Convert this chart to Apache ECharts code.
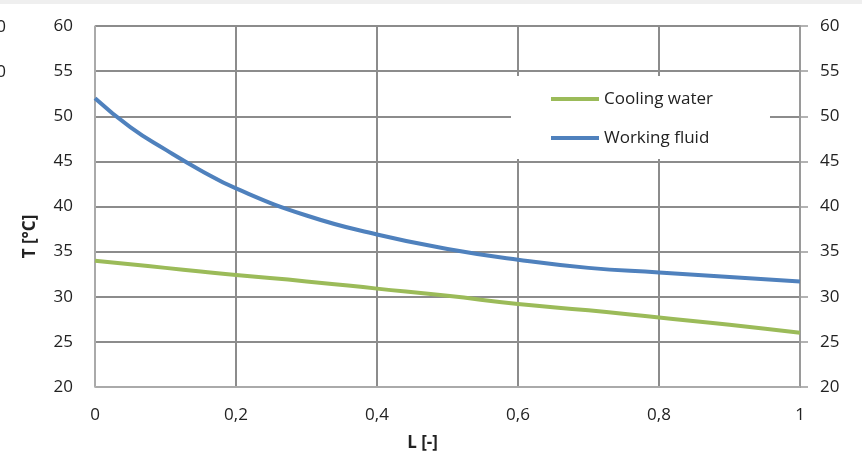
<!DOCTYPE html>
<html><head><meta charset="utf-8">
<script src="https://cdn.jsdelivr.net/npm/echarts@6/dist/echarts.min.js"></script>
<style>html,body{margin:0;padding:0;background:#fff}#c{width:862px;height:460px}</style>
</head><body><div id="c"></div>
<script>
const L_values = [0, 0.05, 0.1, 0.15, 0.2, 0.3, 0.4, 0.5, 0.6, 0.7, 0.8, 0.9, 1.0];
const coolingWater = [34.0, 33.6, 33.2, 32.8, 32.4, 31.7, 30.9, 30.1, 29.2, 28.5, 27.7, 26.9, 26.0];
const workingFluid = [52.0, 48.8, 46.3, 44.0, 42.0, 39.0, 36.9, 35.3, 34.1, 33.2, 32.7, 32.2, 31.7];
const xTicks = ['0', '0,2', '0,4', '0,6', '0,8', '1'];
const yTicks = ['20', '25', '30', '35', '40', '45', '50', '55', '60'];
const seriesNames = ['Cooling water', 'Working fluid'];

const font = '"Open Sans", Lato, sans-serif';
const chart = echarts.init(document.getElementById('c'), null, {renderer: 'canvas'});
const pairs = arr => L_values.map((x, i) => [x, arr[i]]);
const yAxisBase = {
  type: 'value', min: 20, max: 60, interval: 5,
  axisLabel: {fontFamily: font, fontSize: 17, color: '#222',
    formatter: v => yTicks[Math.round((v - 20) / 5)]}
};
chart.setOption({
  animation: false,
  backgroundColor: '#fff',
  grid: {left: 95, right: 62, top: 26, bottom: 73},
  graphic: [
    {type: 'rect', left: 0, top: 0, shape: {width: 862, height: 4}, style: {fill: '#efefef'}, z: 0},
    {type: 'text', x: 6, y: 27, style: {text: '60', fontFamily: font, fontSize: 17, fill: '#222', align: 'right', verticalAlign: 'middle'}},
    {type: 'text', x: 6, y: 72, style: {text: '50', fontFamily: font, fontSize: 17, fill: '#222', align: 'right', verticalAlign: 'middle'}}
  ],
  xAxis: {
    type: 'value', min: 0, max: 1, interval: 0.2,
    name: 'L [-]', nameLocation: 'middle', nameGap: 48,
    nameTextStyle: {fontFamily: font, fontSize: 17, fontWeight: 'bold', color: '#222', padding: [0, 50, 0, 0]},
    axisLine: {show: true, lineStyle: {color: '#b4b4b4', width: 1.5}},
    axisTick: {show: false},
    axisLabel: {fontFamily: font, fontSize: 17, color: '#222', margin: 20,
      formatter: v => xTicks[Math.round(v / 0.2)]},
    splitLine: {show: true, lineStyle: {color: '#8c8c8c', width: 2}}
  },
  yAxis: [
    Object.assign({}, yAxisBase, {
      position: 'left',
      name: 'T [°C]', nameLocation: 'middle', nameGap: 56, nameRotate: 90,
      nameTextStyle: {fontFamily: font, fontSize: 17, fontWeight: 'bold', color: '#222', padding: [0, 60, 0, 0]},
      axisLine: {show: true, lineStyle: {color: '#b4b4b4', width: 1.5}},
      axisTick: {show: false},
      axisLabel: Object.assign({}, yAxisBase.axisLabel, {margin: 22}),
      splitLine: {show: true, lineStyle: {color: '#8c8c8c', width: 2}}
    }),
    Object.assign({}, yAxisBase, {
      position: 'right',
      axisLine: {show: true, lineStyle: {color: '#9a9a9a', width: 2}},
      axisTick: {show: true, length: 8, lineStyle: {color: '#9a9a9a', width: 1.5}},
      axisLabel: Object.assign({}, yAxisBase.axisLabel, {margin: 20}),
      splitLine: {show: false}
    })
  ],
  legend: {
    orient: 'vertical', left: 511, top: 76,
    padding: [13, 57, 11, 40], itemGap: 19,
    backgroundColor: '#fff',
    icon: 'rect', itemWidth: 48, itemHeight: 4,
    textStyle: {fontFamily: font, fontSize: 17, color: '#222', lineHeight: 20},
    data: seriesNames
  },
  series: [
    {name: seriesNames[0], type: 'line', smooth: true, symbol: 'none', data: pairs(coolingWater),
      itemStyle: {color: '#9bbb59'}, lineStyle: {color: '#9bbb59', width: 4}, z: 3},
    {name: seriesNames[1], type: 'line', smooth: true, symbol: 'none', data: pairs(workingFluid),
      itemStyle: {color: '#4f81bd'}, lineStyle: {color: '#4f81bd', width: 4}, z: 3}
  ]
});
</script>
</body></html>
